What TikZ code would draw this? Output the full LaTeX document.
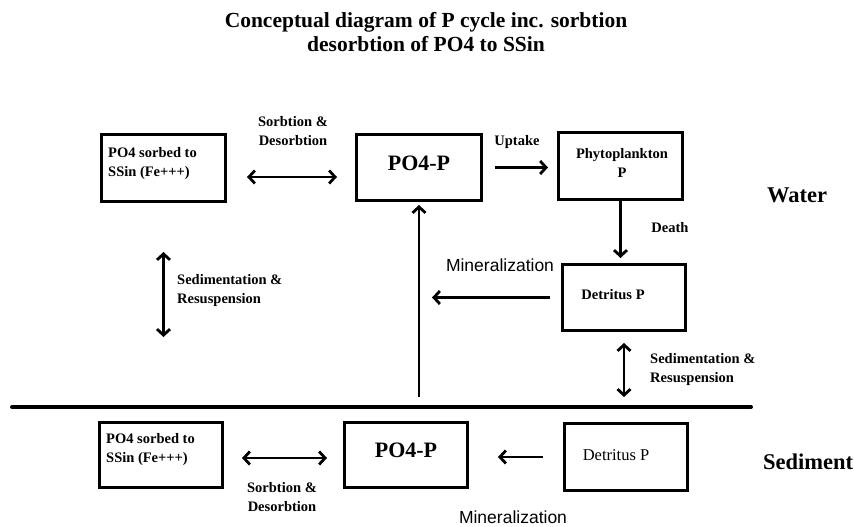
\documentclass[tikz,border=0pt]{standalone}
\usepackage{fontspec}
\setmainfont{Liberation Serif}
\newfontfamily\sansf{Liberation Sans}
\usetikzlibrary{arrows.meta}
\tikzset{
  box/.style={draw, line width=3pt, inner sep=0pt},
  lbl/.style={font=\fontsize{14.5}{18.5}\selectfont\bfseries, align=center, inner sep=0pt},
  lblL/.style={font=\fontsize{14.5}{19}\selectfont\bfseries, align=left, inner sep=0pt, anchor=west},
  big/.style={font=\fontsize{22}{24}\selectfont\bfseries, inner sep=0pt},
  zone/.style={font=\fontsize{22.5}{25}\selectfont\bfseries, inner sep=0pt},
  minl/.style={font=\fontsize{17.5}{20}\selectfont\sansf, inner sep=0pt},
  tip/.style={Straight Barb[length=6pt,width=13pt]},
  arr/.style={line width=2.8pt, -{Straight Barb[length=6pt,width=13pt]}},
  darr/.style={line width=2.8pt, {Straight Barb[length=6pt,width=13pt]}-{Straight Barb[length=6pt,width=13pt]}}
}
\begin{document}
\begin{tikzpicture}[x=1pt,y=-1pt]
\useasboundingbox (0,0) rectangle (854,527);
% title
\node[font=\fontsize{21.5}{24}\selectfont\bfseries, align=center, inner sep=0pt] (title) at (426,32)
  {Conceptual diagram of P cycle inc. sorbtion\\desorbtion of PO4 to SSin};
% boxes
\node[box, minimum width=124pt, minimum height=67pt] (sA) at (163.5,168) {};
\node[box, minimum width=125pt, minimum height=66pt] (pA) at (419,167.5) {};
\node[box, minimum width=124pt, minimum height=67pt] (ph) at (620.5,166) {};
\node[box, minimum width=123pt, minimum height=66pt] (dW) at (624,297.5) {};
\node[box, minimum width=123pt, minimum height=65pt] (sB) at (161,455) {};
\node[box, minimum width=123pt, minimum height=65pt] (pB) at (406,455) {};
\node[box, minimum width=123pt, minimum height=67pt] (dB) at (626,457) {};
% box texts
\node[lblL] (tsA) at (108,164) {PO4 sorbed to\\SSin (Fe+++)};
\node[big] (tpA) at (419,163) {PO4-P};
\node[lbl] (tph) at (622,163) {Phytoplankton\\P};
\node[lbl] (tdW) at (613,295) {Detritus P};
\node[lblL] (tsB) at (106,450) {PO4 sorbed to\\SSin (Fe+++)};
\node[big] (tpB) at (406,450) {PO4-P};
\node[font=\fontsize{16.5}{18}\selectfont, inner sep=0pt] (tdB) at (616,455) {Detritus P};
% zone labels
\node[zone] (water) at (797,195) {Water};
\node[zone] (sed) at (808,462) {Sediment};
% interface line
\coordinate (L1) at (12,407);
\coordinate (L2) at (751,407);
\draw[line width=4pt, line cap=round] (L1) -- (L2);
\coordinate (upBase) at (419,397);
\coordinate (mW) at (432,297.5);
% connectors (water)
\draw[darr, shorten <=20pt, shorten >=18pt] ([yshift=-9pt]sA.east) -- ([yshift=-9pt]sA.east -| pA.west);
\draw[arr, shorten <=12pt, shorten >=9pt] (pA.east) -- (pA.east -| ph.west);
\draw[arr, shorten >=5pt] (ph.south) -- (ph.south |- dW.north);
\draw[arr, shorten <=11pt] (dW.west) -- (mW);
\draw[arr, shorten >=3pt] (upBase) -- (pA.south);
\draw[darr, shorten <=11pt] (dW.south) -- (dW.south |- upBase);
\draw[darr, shorten <=49pt, shorten >=84pt] (sA.south) -- (sA.south |- sB.north);
% connectors (sediment)
\draw[darr, shorten <=18pt, shorten >=16pt] ([yshift=-3pt]sB.east) -- ([yshift=-3pt]sB.east -| pB.west);
\draw[arr, shorten <=20pt, shorten >=29pt] (dB.west) -- (dB.west -| pB.east);
% labels
\node[lbl] (lsorb1) at (293,131) {Sorbtion \&\\Desorbtion};
\node[lbl] (lup) at (517,142) {Uptake};
\node[lbl] (ldeath) at (670,228) {Death};
\node[minl] (lmin1) at (500,265) {Mineralization};
\node[lblL] (lsedL) at (177,291) {Sedimentation \&\\Resuspension};
\node[lblL] (lsedR) at (650,370) {Sedimentation \&\\Resuspension};
\node[lbl] (lsorb2) at (282,497) {Sorbtion \&\\Desorbtion};
\node[minl] (lmin2) at (513,517) {Mineralization};
\end{tikzpicture}
\end{document}
